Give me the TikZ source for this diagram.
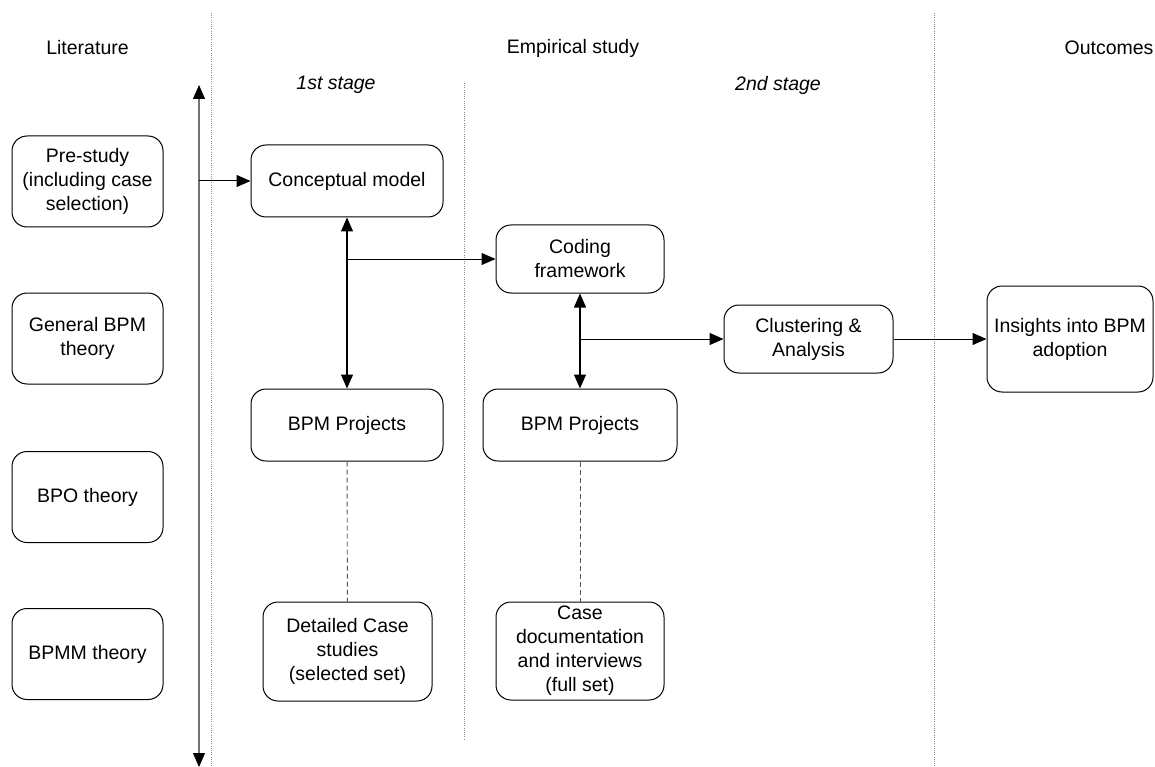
\documentclass[tikz,border=0pt]{standalone}
\usepackage{fontspec}
\setmainfont{Liberation Sans}
\usetikzlibrary{arrows.meta, calc}

\begin{document}
\begin{tikzpicture}[x=1pt, y=-1pt, font=\fontsize{19.5}{24}\selectfont]

%my colors
\definecolor{sepgray}{rgb}{0.55, 0.55, 0.55}
\definecolor{axisgray}{rgb}{0.45, 0.45, 0.45}
\definecolor{dashgray}{rgb}{0.35, 0.35, 0.35}

\tikzset{
  box/.style={draw, rounded corners=15pt, align=center, line width=1pt, inner sep=0pt},
  tip/.style={-{Triangle[length=14pt, width=12pt, color=black]}, line width=1pt},
  dbltip/.style={{Triangle[length=14pt, width=12pt]}-{Triangle[length=14pt, width=12pt]}, line width=1.2pt},
  separator/.style={sepgray, line width=0.8pt, dash pattern=on 1pt off 1.2pt},
  link/.style={dashgray, line width=0.9pt, dash pattern=on 5pt off 3pt},
}

    \useasboundingbox (0,0) rectangle (1155,767);

    % Column separators
    \draw[separator] (211,13) -- (211,767);
    \draw[separator] (464,83) -- (464,740);
    \draw[separator] (934,13) -- (934,767);

    % Column headers
    \node (hLit) at (87.5,48) {Literature};
    \node (hEmp) at (573,48) {Empirical study};
    \node (hOut) at (1109,48) {Outcomes};
    \node[font=\fontsize{19.5}{24}\selectfont\itshape] (hStage1) at (336,85) {1st stage};
    \node[font=\fontsize{19.5}{24}\selectfont\itshape] (hStage2) at (778,85) {2nd stage};

    % Literature boxes
    \node[box, minimum width=151pt, minimum height=91pt] (Pre) at (87.5,181.5) {Pre-study\\(including case\\selection)};
    \node[box, minimum width=151pt, minimum height=91pt] (GenBPM) at (87.5,338.5) {General BPM\\theory};
    \node[box, minimum width=151pt, minimum height=91pt] (BPO) at (87.5,497) {BPO theory};
    \node[box, minimum width=151pt, minimum height=91pt] (BPMM) at (87.5,654) {BPMM theory};

    % 1st stage
    \node[box, minimum width=192pt, minimum height=72pt] (Concept) at (347,181) {Conceptual model};
    \node[box, minimum width=192pt, minimum height=72pt] (Proj1) at (347,425) {BPM Projects};
    \node[box, minimum width=169pt, minimum height=99pt] (Detail) at (347.5,651.5) {Detailed Case\\studies\\(selected set)};

    % 2nd stage
    \node[box, minimum width=168pt, minimum height=68pt] (Coding) at (580,259) {Coding\\framework};
    \node[box, minimum width=194pt, minimum height=72pt] (Proj2) at (580,425) {BPM Projects};
    \node[box, minimum width=168pt, minimum height=98pt] (CaseDoc) at (580,651) {Case\\documentation\\and interviews\\(full set)};
    \node[box, minimum width=169pt, minimum height=68pt] (Cluster) at (808.5,339) {Clustering \&\\Analysis};

    % Outcome
    \node[box, minimum width=166pt, minimum height=106pt] (Insight) at (1070,339) {Insights into BPM\\adoption};

    % Literature axis
    \coordinate (LitTop) at (199,85);
    \coordinate (LitBot) at (199,767);
    \coordinate (LitBranch) at (199,181);
    \draw[axisgray, line width=1.2pt, {Triangle[length=14pt, width=12pt, color=black]}-{Triangle[length=14pt, width=12pt, color=black]}] (LitTop) -- (LitBot);
    \draw[tip] (LitBranch) -- (Concept.west);

    % Model <-> projects, with branches
    \draw[dbltip] (Concept) -- (Proj1);
    \coordinate (Branch1) at (347,259);
    \draw[tip] (Branch1) -- (Coding.west);

    \draw[dbltip] (Coding) -- (Proj2);
    \coordinate (Branch2) at (580,339);
    \draw[tip] (Branch2) -- (Cluster.west);

    \draw[tip] (Cluster) -- (Insight);

    % Data sources
    \draw[link] (Proj1) -- (Detail);
    \draw[link] (Proj2) -- (CaseDoc);

\end{tikzpicture}
\end{document}
